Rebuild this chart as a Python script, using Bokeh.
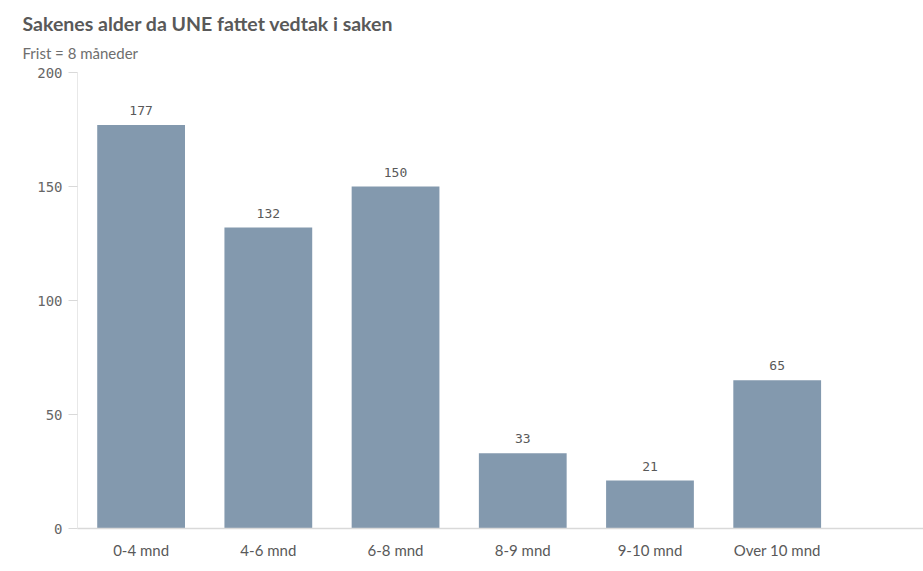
from bokeh.plotting import figure
from bokeh.models import ColumnDataSource, Range1d, FixedTicker, Title, LabelSet
from bokeh.core.properties import value
from bokeh.embed import file_html
from bokeh.resources import INLINE

categories = ["0-4 mnd", "4-6 mnd", "6-8 mnd", "8-9 mnd", "9-10 mnd", "Over 10 mnd"]
values = [177, 132, 150, 33, 21, 65]
y_ticks = [0, 50, 100, 150, 200]

xpos = [i + 0.5 for i in range(len(categories))]
src = ColumnDataSource(dict(x=xpos, top=values, label=[str(v) for v in values]))

GRAY = "#595959"

p = figure(frame_width=846, frame_height=456, output_backend="svg", toolbar_location=None,
           x_range=Range1d(0, 6.65), y_range=Range1d(0, 200),
           min_border_left=77, min_border_right=0, min_border_bottom=35, min_border_top=72)
p.outline_line_color = None
p.xgrid.visible = False
p.ygrid.visible = False

p.vbar(x="x", top="top", width=0.69, source=src, fill_color="#8399ae", line_color=None)

p.add_layout(LabelSet(x="x", y="top", text="label", source=src, text_align="center",
                      text_baseline="bottom", y_offset=10, text_font=value("DejaVu Sans Mono"),
                      text_font_size="13px", text_color=GRAY))

p.xaxis.ticker = FixedTicker(ticks=xpos)
p.xaxis.major_label_overrides = {x: c for x, c in zip(xpos, categories)}
p.xaxis.major_tick_line_color = None
p.xaxis.minor_tick_line_color = None
p.xaxis.axis_line_color = "#d9d9d9"
p.xaxis.axis_line_width = 1.5
p.xaxis.major_label_text_font = "Lato"
p.xaxis.major_label_text_font_size = "15px"
p.xaxis.major_label_text_color = GRAY
p.xaxis.major_label_standoff = 6

p.yaxis.ticker = FixedTicker(ticks=y_ticks)
p.yaxis.minor_tick_line_color = None
p.yaxis.axis_line_color = "#e8e8e8"
p.yaxis.major_tick_line_color = "#d9d9d9"
p.yaxis.major_tick_out = 9
p.yaxis.major_tick_in = 0
p.yaxis.major_label_text_font = "DejaVu Sans Mono"
p.yaxis.major_label_text_font_size = "14px"
p.yaxis.major_label_text_color = "#666666"
p.yaxis.major_label_standoff = 6

p.add_layout(Title(text="Frist = 8 måneder", align="left", offset=-55, vertical_align="top",
                   text_font="Lato", text_font_size="15px", text_font_style="normal",
                   text_color="#6e6e6e", standoff=18), "above")
p.add_layout(Title(text="Sakenes alder da UNE fattet vedtak i saken", align="left", offset=-55,
                   text_font="Lato", text_font_size="19.5px", text_font_style="bold",
                   text_color=GRAY, standoff=0), "above")

open("out.html", "w").write(file_html(p, INLINE))
